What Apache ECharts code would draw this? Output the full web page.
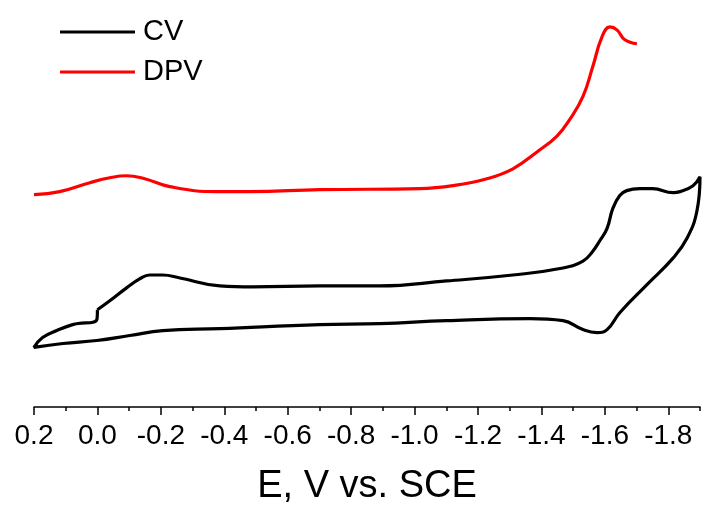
<!DOCTYPE html>
<html>
<head>
<meta charset="utf-8">
<style>
  html, body { margin: 0; padding: 0; background: #fff; }
  #main { width: 702px; height: 511px; }
</style>
<script src="https://cdn.jsdelivr.net/npm/echarts@6.0.0/dist/echarts.min.js"></script>
</head>
<body>
<div id="main"></div>
<script>
// potential (V vs. SCE) and current (arbitrary units)
// CV loop: starts at 0.0 V, sweeps to -1.9 V, back to 0.2 V, then up to 0.0 V again
var cvE = [0.0, -0.039, -0.092, -0.133, -0.165, -0.206, -0.26, -0.386, -0.49, -0.701, -0.89, -1.101,
  -1.31, -1.468, -1.531, -1.562, -1.585, -1.607, -1.625, -1.647, -1.669, -1.71, -1.751, -1.815,
  -1.837, -1.878, -1.9,
  -1.89, -1.859, -1.815, -1.732, -1.647, -1.607, -1.575, -1.531, -1.468, -1.364, -1.101, -0.89,
  -0.701, -0.386, -0.206, -0.102, 0.002, 0.109, 0.2,
  0.173, 0.128, 0.078, 0.002, 0.0];
var cvI = [98, 107, 120, 129, 133, 133, 130, 122, 121, 122, 122, 127,
  133, 140, 147, 157, 168, 180, 200, 213, 218, 220, 220, 216,
  217, 223, 232,
  197, 170, 150, 123, 95, 78, 75, 78, 87, 89, 87, 84,
  83, 79, 77, 72, 67, 64, 60,
  70, 77, 83, 88, 98];

var dpvE = [0.2, 0.119, 0.024, -0.039, -0.092, -0.149, -0.228, -0.376, -0.481, -0.701, -1.017, -1.121,
  -1.228, -1.31, -1.386, -1.449, -1.49, -1.531, -1.562, -1.591, -1.616, -1.638, -1.663, -1.701];
var dpvI = [214, 217, 226, 231, 233, 230, 222, 217, 217, 219, 220, 223,
  230, 240, 257, 273, 290, 313, 343, 373, 383, 380, 370, 366];

var majorTicks = [0.2, 0.0, -0.2, -0.4, -0.6, -0.8, -1.0, -1.2, -1.4, -1.6, -1.8];
var minorTicks = [0.1, -0.1, -0.3, -0.5, -0.7, -0.9, -1.1, -1.3, -1.5, -1.7, -1.9];

function pairs(xs, ys) {
  var out = [];
  for (var i = 0; i < xs.length; i++) out.push([xs[i], ys[i]]);
  return out;
}

var font = '"Liberation Sans", Arial, sans-serif';
var myChart = echarts.init(document.getElementById('main'));

var option = {
  animation: false,
  grid: { left: 34, right: 2, top: 10, bottom: 101 },
  legend: {
    orient: 'vertical',
    left: 55,
    top: 12,
    icon: 'rect',
    itemWidth: 75,
    itemHeight: 3,
    itemGap: 10,
    textStyle: { fontFamily: font, fontSize: 29, color: '#000', lineHeight: 30, padding: [0, 0, 0, 3] },
    data: ['CV', 'DPV']
  },
  xAxis: [
    {
      type: 'value',
      inverse: true,
      min: -1.9,
      max: 0.2,
      name: 'E, V vs. SCE',
      nameLocation: 'middle',
      nameGap: 61,
      nameTextStyle: { fontFamily: font, fontSize: 38, color: '#000' },
      axisLine: { show: true, lineStyle: { color: '#000', width: 1.5 } },
      axisTick: { show: true, customValues: majorTicks, length: 8, lineStyle: { color: '#000', width: 1.5 } },
      axisLabel: {
        customValues: majorTicks,
        margin: 15,
        fontFamily: font,
        fontSize: 28,
        color: '#000',
        formatter: function (v) { return v.toFixed(1); }
      },
      splitLine: { show: false }
    },
    {
      // minor ticks only
      type: 'value',
      inverse: true,
      min: -1.9,
      max: 0.2,
      position: 'bottom',
      axisLine: { show: false },
      axisTick: { show: true, customValues: minorTicks, length: 4, lineStyle: { color: '#000', width: 1.5 } },
      axisLabel: { show: false },
      splitLine: { show: false }
    }
  ],
  yAxis: { type: 'value', min: 0, max: 400, show: false },
  series: [
    {
      name: 'CV',
      type: 'line',
      xAxisIndex: 0,
      data: pairs(cvE, cvI),
      showSymbol: false,
      smooth: 0.45,
      lineStyle: { color: '#000', width: 3.2 },
      itemStyle: { color: '#000' }
    },
    {
      name: 'DPV',
      type: 'line',
      xAxisIndex: 0,
      data: pairs(dpvE, dpvI),
      showSymbol: false,
      smooth: 0.45,
      lineStyle: { color: '#ff0000', width: 3.2 },
      itemStyle: { color: '#ff0000' }
    }
  ]
};

myChart.setOption(option);
</script>
</body>
</html>
